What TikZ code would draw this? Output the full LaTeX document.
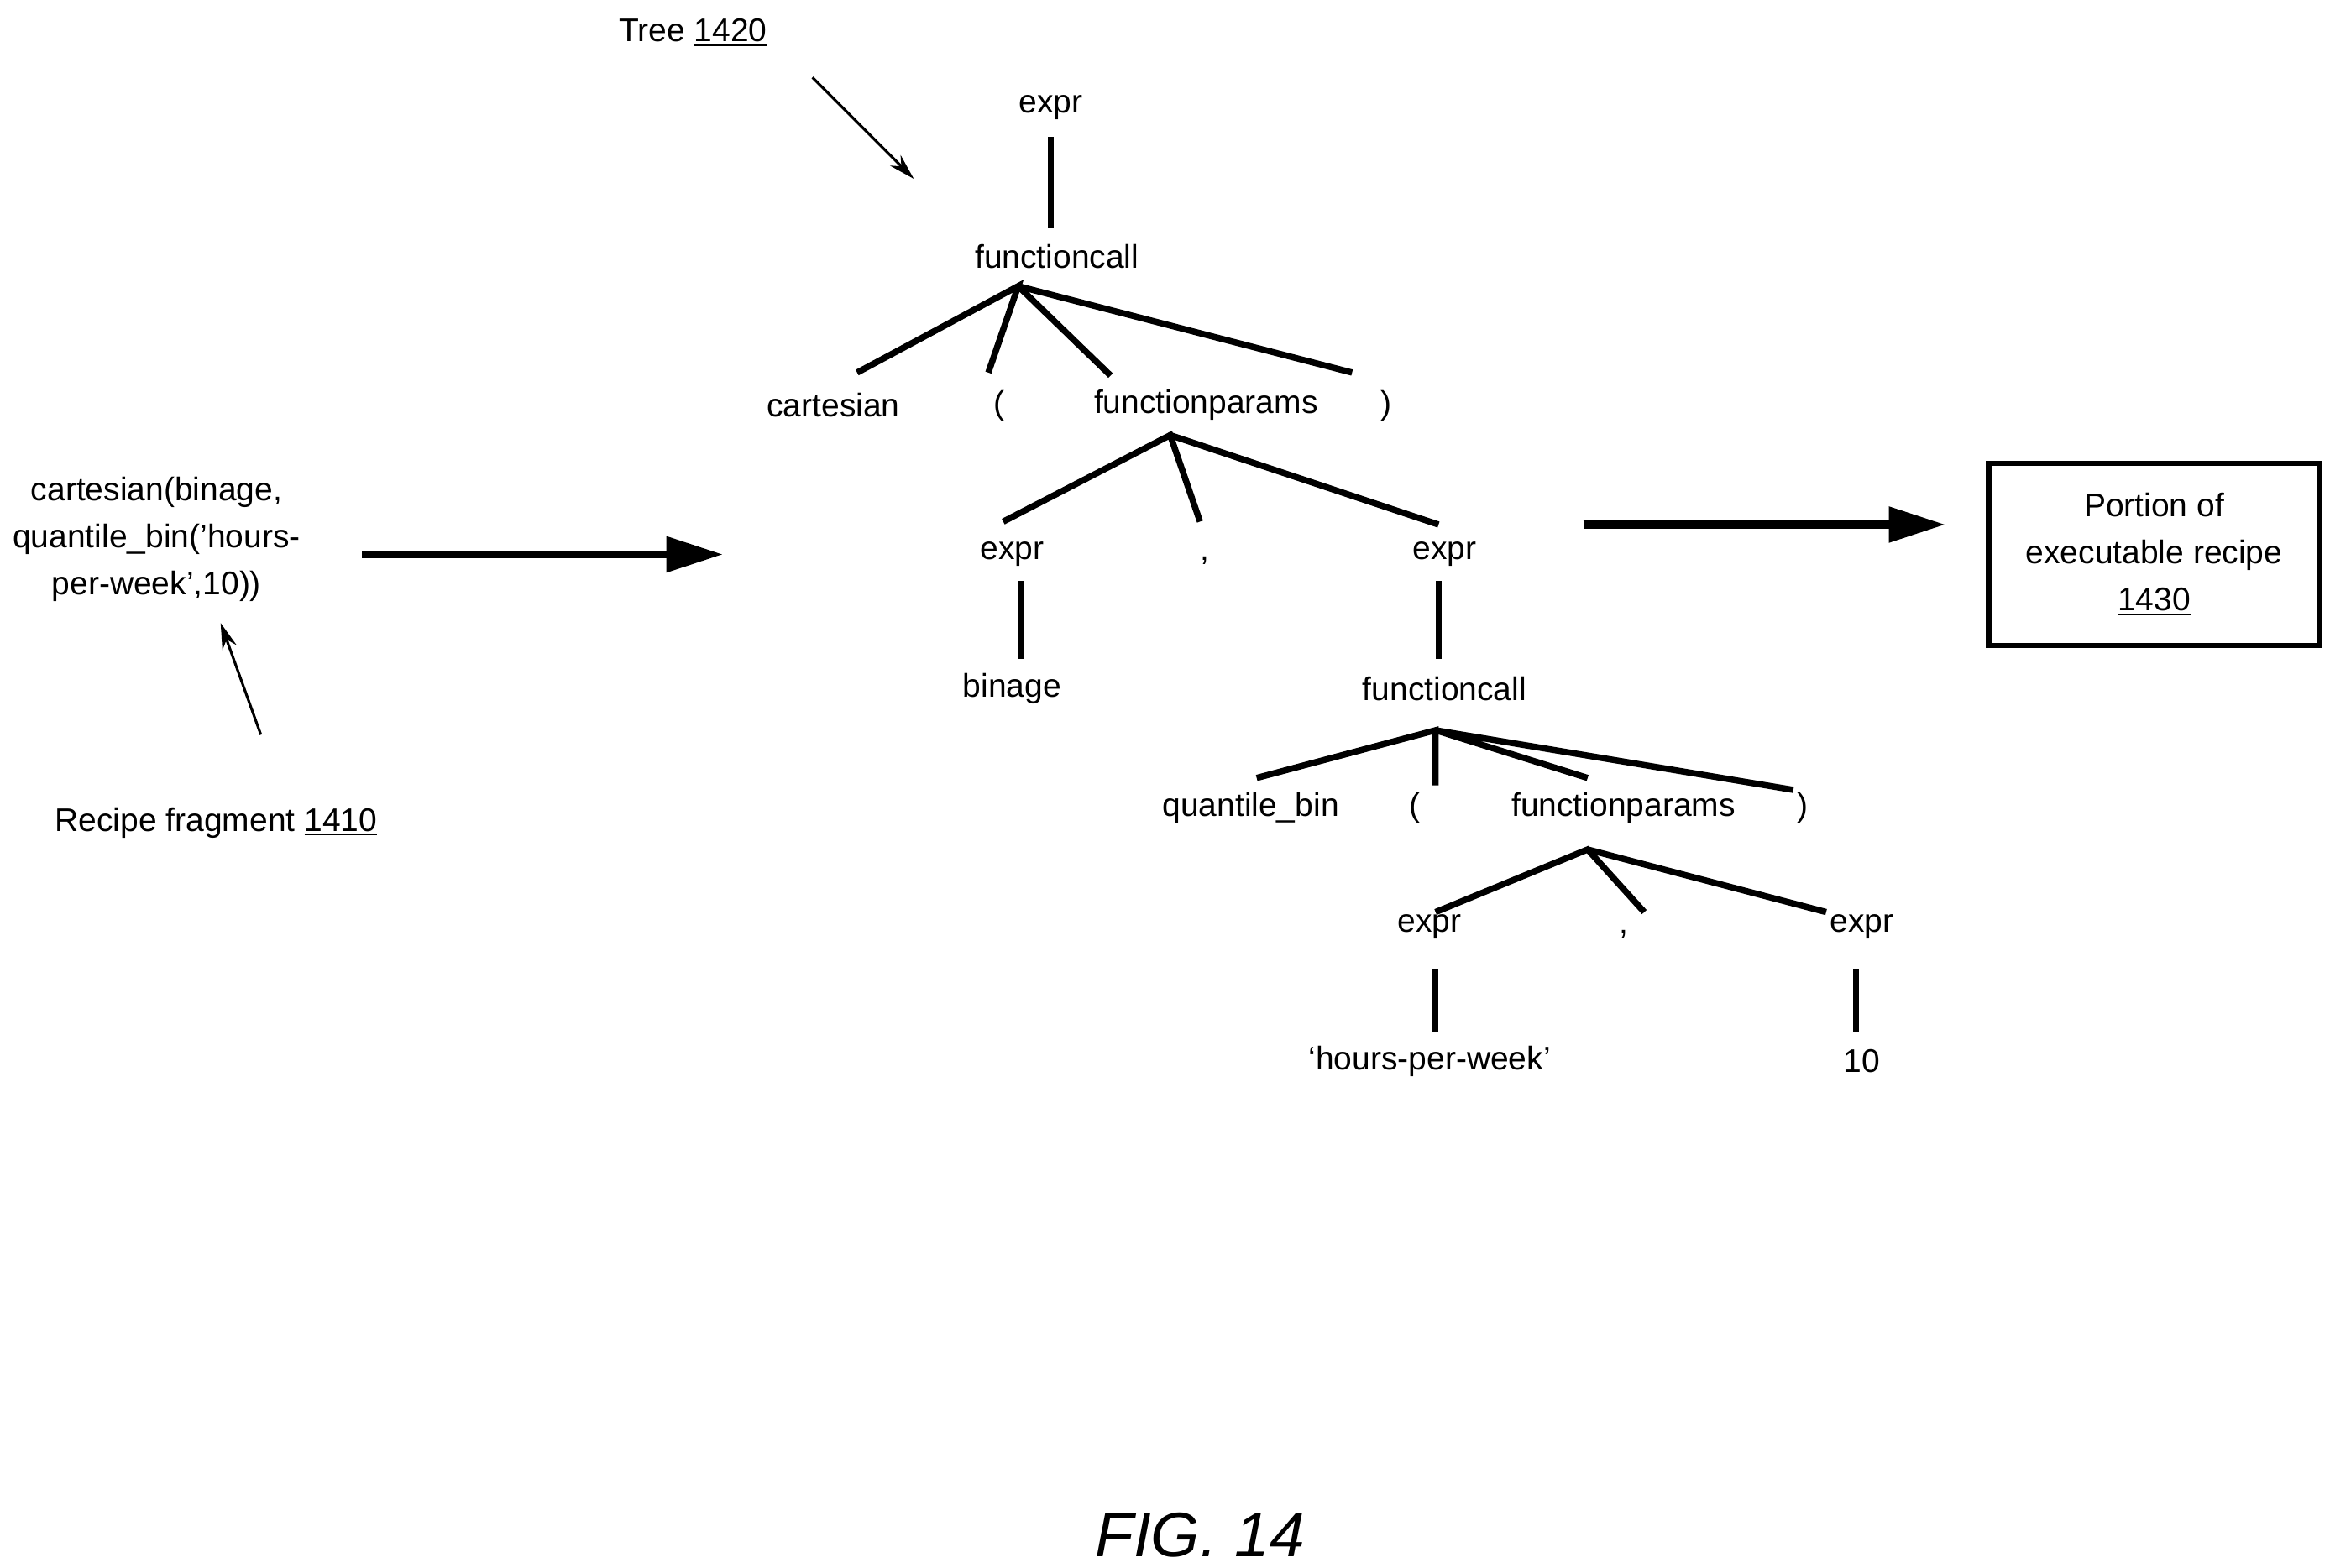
\documentclass[tikz,border=0pt]{standalone}
\usepackage{fontspec}
\setmainfont{Liberation Sans}
\usetikzlibrary{arrows.meta}
\begin{document}
\begin{tikzpicture}[x=0.02cm,y=-0.02cm,
  t/.style={font=\fontsize{12.5}{15}\selectfont,inner sep=0pt},
  e/.style={line width=2.4pt},
  big/.style={line width=3pt,-{Triangle[length=0.76cm,width=0.46cm]}},
  thin/.style={line width=1pt,-{Stealth[length=0.35cm,width=0.2cm]}}]
\useasboundingbox (0,0) rectangle (1563,1051.6);
\node[t] (tree) at (465,22) {Tree \underline{1420}};
\coordinate (ta) at (545,52); \coordinate (tb) at (613,120);
\draw[thin] (ta) -- (tb);
\node[t] (e1) at (705,72) {expr};
\node[t] (fc1) at (709,172) {functioncall};
\draw[e] (705,92) -- (705,153);
\coordinate (a1) at (683,192);
\node[t] (cart) at (559,272) {cartesian};
\node[t] (lp1) at (670,272) {(};
\node[t] (fp1) at (809,272) {functionparams};
\node[t] (rp1) at (930,272) {)};
\draw[e] (575,250) -- (a1) -- (663,250) (a1) -- (745,252) (a1) -- (907,250);
\coordinate (a2) at (785,292);
\node[t] (e2) at (679,372) {expr};
\node[t] (c1) at (808,376) {,};
\node[t] (e3) at (969,372) {expr};
\draw[e] (673,350) -- (a2) -- (805,350) (a2) -- (965,352);
\node[t] (bin) at (679,462) {binage};
\node[t] (fc2) at (969,462) {functioncall};
\draw[e] (685,390) -- (685,442) (965,390) -- (965,442);
\coordinate (a3) at (963,490);
\node[t] (qb) at (839,542) {quantile\_bin};
\node[t] (lp2) at (949,542) {(};
\node[t] (fp2) at (1089,542) {functionparams};
\node[t] (rp2) at (1209,542) {)};
\draw[e] (843,522) -- (a3) -- (963,527) (a3) -- (1065,522) (a3) -- (1203,530);
\coordinate (a4) at (1065,570);
\node[t] (e4) at (959,622) {expr};
\node[t] (c2) at (1089,627) {,};
\node[t] (e5) at (1249,622) {expr};
\draw[e] (963,612) -- (a4) -- (1103,612) (a4) -- (1225,612);
\node[t] (hpw) at (959,712) {`hours-per-week'};
\node[t] (ten) at (1249,712) {10};
\draw[e] (963,650) -- (963,692) (1245,650) -- (1245,692);
\node[t,align=center] (frag) at (105,362) {cartesian(binage,\\[3pt]quantile\_bin('hours-\\[3pt]per-week',10))};
\coordinate (f1) at (243,372); \coordinate (f2) at (485,372);
\draw[big] (f1) -- (f2);
\node[t] (rf) at (145,552) {Recipe fragment \underline{1410}};
\coordinate (r1) at (175,493); \coordinate (r2) at (148,418);
\draw[thin] (r1) -- (r2);
\coordinate (g1) at (1062,352); \coordinate (g2) at (1305,352);
\draw[big] (g1) -- (g2);
\node[draw,line width=2pt,minimum width=222*0.02cm,minimum height=122*0.02cm] (box) at (1445,372) {};
\node[t,align=center] (boxt) at (1445,372) {Portion of\\[3pt]executable recipe\\[3pt]\underline{1430}};
\node[font=\fontsize{24}{28}\selectfont\itshape,inner sep=0pt] (fig) at (805,1030) {FIG. 14};
\end{tikzpicture}
\end{document}
